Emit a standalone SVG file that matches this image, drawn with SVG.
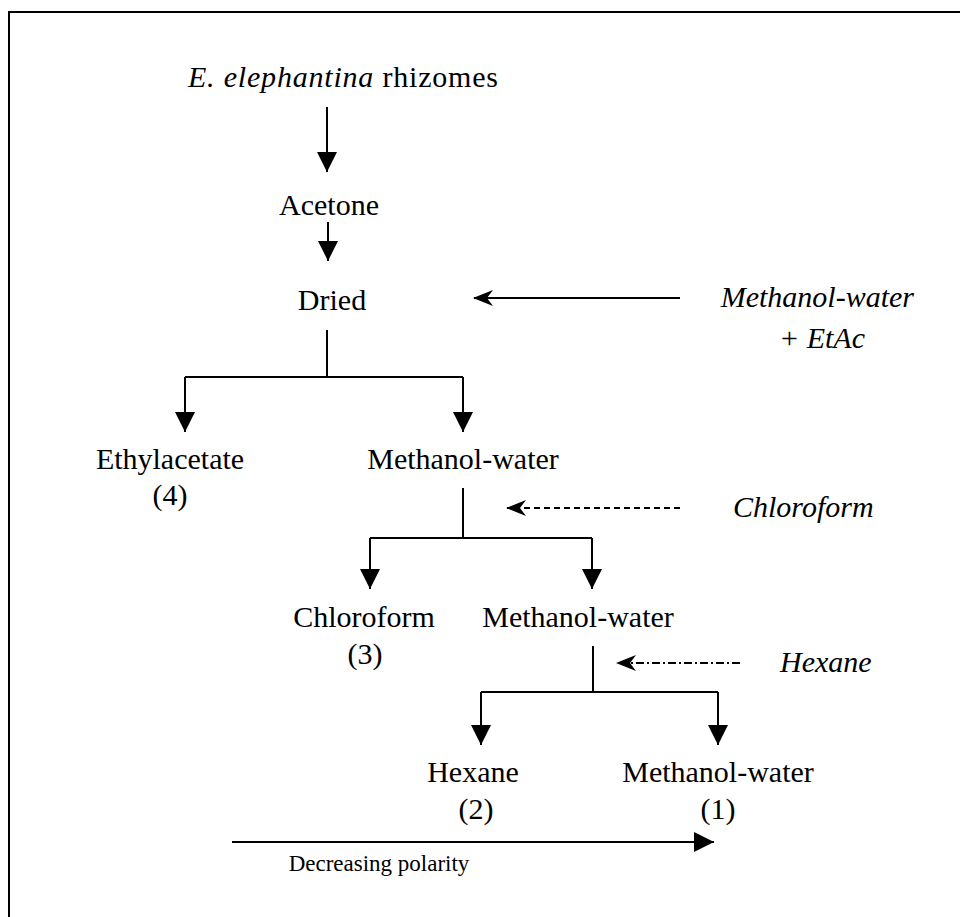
<svg xmlns="http://www.w3.org/2000/svg" width="960" height="917" viewBox="0 0 960 917">
<style>
text{font-family:"Liberation Serif","Times New Roman",serif;font-size:30px;fill:#000}
.i{font-style:italic}
.c{text-anchor:middle}
.ln{stroke:#000;stroke-width:2;fill:none}
.sm{font-size:23px}
</style>
<defs>
<marker id="tri" markerUnits="userSpaceOnUse" viewBox="0 0 20 20" refX="20" refY="10" markerWidth="20" markerHeight="20" orient="auto"><path d="M0,0 L20,10 L0,20 z" fill="#000"/></marker>
<marker id="barb" markerUnits="userSpaceOnUse" viewBox="0 0 20 20" refX="19" refY="10" markerWidth="20" markerHeight="20" orient="auto"><path d="M0,2 L20,10 L0,18 L6,10 z" fill="#000"/></marker>
</defs>
<rect width="960" height="917" fill="#fff"/>
<path class="ln" d="M9,917 V12 H960" stroke-width="2.5"/>
<g id="n-rhizomes"><text x="188" y="87" textLength="310" lengthAdjust="spacing"><tspan class="i">E. elephantina</tspan> rhizomes</text></g>
<g id="n-acetone"><text x="329" y="215" class="c">Acetone</text></g>
<g id="n-dried"><text x="332" y="310" class="c">Dried</text></g>
<g id="n-solvent1"><text x="914" y="307" class="i" text-anchor="end">Methanol-water</text><text x="822" y="348" class="i c">+ EtAc</text></g>
<g id="n-ethyl"><text x="170" y="469" class="c">Ethylacetate</text><text x="170" y="505" class="c">(4)</text></g>
<g id="n-mw1"><text x="463" y="469" class="c">Methanol-water</text></g>
<g id="n-solvent2"><text x="733" y="517" class="i">Chloroform</text></g>
<g id="n-chloro"><text x="364" y="627" class="c">Chloroform</text><text x="365" y="664" class="c">(3)</text></g>
<g id="n-mw2"><text x="578" y="627" class="c">Methanol-water</text></g>
<g id="n-solvent3"><text x="780" y="672" class="i">Hexane</text></g>
<g id="n-hexane"><text x="473" y="782" class="c">Hexane</text><text x="476" y="819" class="c">(2)</text></g>
<g id="n-mw3"><text x="718" y="782" class="c">Methanol-water</text><text x="718" y="819" class="c">(1)</text></g>
<g id="n-polarity"><text x="379" y="871" class="sm c">Decreasing polarity</text></g>
<g id="connectors">
<path class="ln" d="M327,107 V172" marker-end="url(#tri)"/>
<path class="ln" d="M328,222 V261" marker-end="url(#tri)"/>
<path class="ln" d="M680,298 H474" marker-end="url(#barb)"/>
<path class="ln" d="M327,330 V377"/>
<path class="ln" d="M185,377 H463"/>
<path class="ln" d="M185,377 V432" marker-end="url(#tri)"/>
<path class="ln" d="M463,377 V432" marker-end="url(#tri)"/>
<path class="ln" d="M463,488 V538"/>
<path class="ln" d="M680,508 H507" stroke-dasharray="6,4" marker-end="url(#barb)"/>
<path class="ln" d="M370,538 H592"/>
<path class="ln" d="M370,538 V589" marker-end="url(#tri)"/>
<path class="ln" d="M592,538 V589" marker-end="url(#tri)"/>
<path class="ln" d="M593,646 V692"/>
<path class="ln" d="M740,663 H617" stroke-dasharray="8,3,2,3" marker-end="url(#barb)"/>
<path class="ln" d="M481,692 H718"/>
<path class="ln" d="M481,692 V745" marker-end="url(#tri)"/>
<path class="ln" d="M718,692 V745" marker-end="url(#tri)"/>
<path class="ln" d="M232,842 H714" marker-end="url(#tri)"/>
</g>
</svg>
